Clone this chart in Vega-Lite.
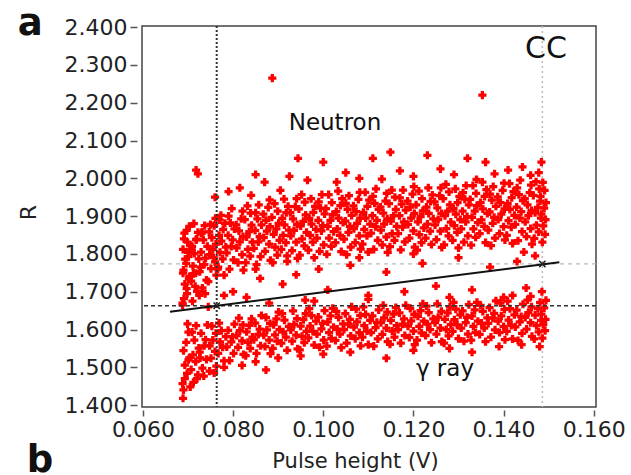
{
"$schema": "https://vega.github.io/schema/vega-lite/v6.json",
"width": 454, "height": 381,
"autosize": {"type": "none"},
"padding": {"left": 142, "top": 26, "right": 35, "bottom": 68},
"background": "white",
"config": {"view": {"stroke": "#444", "strokeWidth": 1.5}, "font": "DejaVu Sans",
 "axis": {"labelOverlap": false, "labelFlush": false, "labelBound": false, "domain": false, "grid": false, "tickWidth": 1.5, "tickColor": "#555", "labelFontSize": 22, "labelColor": "#222", "labelFont": "DejaVu Sans", "titleFontWeight": "normal", "titleColor": "#222", "titleFont": "DejaVu Sans"}},
"datasets": {
"pts": [
{"x":0.0688,"y":1.670},{"x":0.0698,"y":1.695},{"x":0.0693,"y":1.720},{"x":0.0703,"y":1.740},{"x":0.0690,"y":1.757},{"x":0.0696,"y":1.775},{"x":0.0701,"y":1.793},{"x":0.0689,"y":1.812},{"x":0.0699,"y":1.831},{"x":0.0692,"y":1.855},
{"x":0.0688,"y":1.457},{"x":0.0698,"y":1.484},{"x":0.0693,"y":1.506},{"x":0.0703,"y":1.525},{"x":0.0690,"y":1.544},{"x":0.0696,"y":1.566},{"x":0.0701,"y":1.593},
{"x":0.0720,"y":1.701},{"x":0.0707,"y":1.728},{"x":0.0717,"y":1.749},{"x":0.0711,"y":1.768},{"x":0.0724,"y":1.787},{"x":0.0714,"y":1.801},{"x":0.0709,"y":1.820},{"x":0.0718,"y":1.837},{"x":0.0722,"y":1.857},{"x":0.0713,"y":1.880},
{"x":0.0720,"y":1.470},{"x":0.0707,"y":1.494},{"x":0.0717,"y":1.515},{"x":0.0711,"y":1.533},{"x":0.0724,"y":1.551},{"x":0.0714,"y":1.572},{"x":0.0709,"y":1.593},
{"x":0.0732,"y":1.710},{"x":0.0741,"y":1.731},{"x":0.0726,"y":1.753},{"x":0.0736,"y":1.772},{"x":0.0739,"y":1.789},{"x":0.0729,"y":1.805},{"x":0.0743,"y":1.820},{"x":0.0734,"y":1.837},{"x":0.0730,"y":1.854},{"x":0.0737,"y":1.875},
{"x":0.0732,"y":1.498},{"x":0.0741,"y":1.521},{"x":0.0726,"y":1.540},{"x":0.0736,"y":1.557},{"x":0.0739,"y":1.573},{"x":0.0729,"y":1.590},{"x":0.0743,"y":1.612},
{"x":0.0763,"y":1.744},{"x":0.0751,"y":1.761},{"x":0.0760,"y":1.779},{"x":0.0748,"y":1.798},{"x":0.0755,"y":1.812},{"x":0.0762,"y":1.826},{"x":0.0753,"y":1.843},{"x":0.0747,"y":1.858},{"x":0.0758,"y":1.875},{"x":0.0761,"y":1.894},
{"x":0.0763,"y":1.503},{"x":0.0751,"y":1.524},{"x":0.0760,"y":1.542},{"x":0.0748,"y":1.557},{"x":0.0755,"y":1.572},{"x":0.0762,"y":1.590},{"x":0.0753,"y":1.609},
{"x":0.0780,"y":1.744},{"x":0.0767,"y":1.765},{"x":0.0777,"y":1.787},{"x":0.0771,"y":1.804},{"x":0.0784,"y":1.818},{"x":0.0774,"y":1.834},{"x":0.0769,"y":1.849},{"x":0.0778,"y":1.865},{"x":0.0782,"y":1.881},{"x":0.0773,"y":1.902},
{"x":0.0780,"y":1.517},{"x":0.0767,"y":1.537},{"x":0.0777,"y":1.553},{"x":0.0771,"y":1.567},{"x":0.0784,"y":1.581},{"x":0.0774,"y":1.597},{"x":0.0769,"y":1.617},
{"x":0.0792,"y":1.760},{"x":0.0801,"y":1.784},{"x":0.0786,"y":1.803},{"x":0.0796,"y":1.820},{"x":0.0799,"y":1.837},{"x":0.0789,"y":1.849},{"x":0.0803,"y":1.866},{"x":0.0794,"y":1.882},{"x":0.0790,"y":1.900},{"x":0.0797,"y":1.920},
{"x":0.0792,"y":1.518},{"x":0.0801,"y":1.537},{"x":0.0786,"y":1.554},{"x":0.0796,"y":1.567},{"x":0.0799,"y":1.581},{"x":0.0789,"y":1.598},{"x":0.0803,"y":1.614},
{"x":0.0823,"y":1.757},{"x":0.0811,"y":1.777},{"x":0.0820,"y":1.798},{"x":0.0808,"y":1.816},{"x":0.0815,"y":1.832},{"x":0.0822,"y":1.846},{"x":0.0813,"y":1.861},{"x":0.0807,"y":1.877},{"x":0.0818,"y":1.893},{"x":0.0821,"y":1.913},
{"x":0.0823,"y":1.534},{"x":0.0811,"y":1.553},{"x":0.0820,"y":1.570},{"x":0.0808,"y":1.584},{"x":0.0815,"y":1.597},{"x":0.0822,"y":1.612},{"x":0.0813,"y":1.630},
{"x":0.0828,"y":1.777},{"x":0.0838,"y":1.794},{"x":0.0833,"y":1.812},{"x":0.0843,"y":1.831},{"x":0.0830,"y":1.845},{"x":0.0836,"y":1.859},{"x":0.0841,"y":1.876},{"x":0.0826,"y":1.891},{"x":0.0839,"y":1.908},{"x":0.0832,"y":1.927},
{"x":0.0828,"y":1.531},{"x":0.0838,"y":1.550},{"x":0.0833,"y":1.566},{"x":0.0843,"y":1.580},{"x":0.0830,"y":1.594},{"x":0.0836,"y":1.611},{"x":0.0841,"y":1.628},
{"x":0.0852,"y":1.772},{"x":0.0861,"y":1.793},{"x":0.0846,"y":1.815},{"x":0.0856,"y":1.832},{"x":0.0859,"y":1.846},{"x":0.0849,"y":1.862},{"x":0.0863,"y":1.877},{"x":0.0854,"y":1.893},{"x":0.0850,"y":1.909},{"x":0.0857,"y":1.930},
{"x":0.0852,"y":1.537},{"x":0.0861,"y":1.557},{"x":0.0846,"y":1.573},{"x":0.0856,"y":1.587},{"x":0.0859,"y":1.601},{"x":0.0849,"y":1.617},{"x":0.0863,"y":1.637},
{"x":0.0883,"y":1.783},{"x":0.0871,"y":1.807},{"x":0.0880,"y":1.826},{"x":0.0868,"y":1.843},{"x":0.0875,"y":1.860},{"x":0.0882,"y":1.872},{"x":0.0873,"y":1.889},{"x":0.0867,"y":1.905},{"x":0.0878,"y":1.923},{"x":0.0881,"y":1.943},
{"x":0.0883,"y":1.536},{"x":0.0871,"y":1.555},{"x":0.0880,"y":1.572},{"x":0.0868,"y":1.585},{"x":0.0875,"y":1.599},{"x":0.0882,"y":1.616},{"x":0.0873,"y":1.632},
{"x":0.0888,"y":1.777},{"x":0.0898,"y":1.797},{"x":0.0893,"y":1.818},{"x":0.0903,"y":1.836},{"x":0.0890,"y":1.852},{"x":0.0896,"y":1.866},{"x":0.0901,"y":1.881},{"x":0.0886,"y":1.897},{"x":0.0899,"y":1.913},{"x":0.0892,"y":1.933},
{"x":0.0888,"y":1.550},{"x":0.0898,"y":1.569},{"x":0.0893,"y":1.586},{"x":0.0903,"y":1.600},{"x":0.0890,"y":1.613},{"x":0.0896,"y":1.628},{"x":0.0901,"y":1.646},
{"x":0.0920,"y":1.795},{"x":0.0907,"y":1.812},{"x":0.0917,"y":1.830},{"x":0.0911,"y":1.849},{"x":0.0924,"y":1.863},{"x":0.0914,"y":1.877},{"x":0.0909,"y":1.894},{"x":0.0918,"y":1.909},{"x":0.0922,"y":1.926},{"x":0.0913,"y":1.945},
{"x":0.0920,"y":1.545},{"x":0.0907,"y":1.564},{"x":0.0917,"y":1.580},{"x":0.0911,"y":1.594},{"x":0.0924,"y":1.608},{"x":0.0914,"y":1.625},{"x":0.0909,"y":1.642},
{"x":0.0943,"y":1.788},{"x":0.0931,"y":1.809},{"x":0.0940,"y":1.831},{"x":0.0928,"y":1.848},{"x":0.0935,"y":1.862},{"x":0.0942,"y":1.878},{"x":0.0933,"y":1.893},{"x":0.0927,"y":1.909},{"x":0.0938,"y":1.925},{"x":0.0941,"y":1.946},
{"x":0.0943,"y":1.549},{"x":0.0931,"y":1.569},{"x":0.0940,"y":1.585},{"x":0.0928,"y":1.599},{"x":0.0935,"y":1.613},{"x":0.0942,"y":1.629},{"x":0.0933,"y":1.649},
{"x":0.0948,"y":1.797},{"x":0.0958,"y":1.821},{"x":0.0953,"y":1.840},{"x":0.0963,"y":1.857},{"x":0.0950,"y":1.874},{"x":0.0956,"y":1.886},{"x":0.0961,"y":1.903},{"x":0.0946,"y":1.919},{"x":0.0959,"y":1.937},{"x":0.0952,"y":1.957},
{"x":0.0948,"y":1.546},{"x":0.0958,"y":1.565},{"x":0.0953,"y":1.582},{"x":0.0963,"y":1.595},{"x":0.0950,"y":1.609},{"x":0.0956,"y":1.626},{"x":0.0961,"y":1.642},
{"x":0.0980,"y":1.790},{"x":0.0967,"y":1.810},{"x":0.0977,"y":1.831},{"x":0.0971,"y":1.849},{"x":0.0984,"y":1.865},{"x":0.0974,"y":1.879},{"x":0.0969,"y":1.894},{"x":0.0978,"y":1.910},{"x":0.0982,"y":1.926},{"x":0.0973,"y":1.946},
{"x":0.0980,"y":1.559},{"x":0.0967,"y":1.578},{"x":0.0977,"y":1.595},{"x":0.0971,"y":1.609},{"x":0.0984,"y":1.622},{"x":0.0974,"y":1.637},{"x":0.0969,"y":1.655},
{"x":0.0992,"y":1.807},{"x":0.1001,"y":1.824},{"x":0.0986,"y":1.842},{"x":0.0996,"y":1.861},{"x":0.0999,"y":1.875},{"x":0.0989,"y":1.889},{"x":0.1003,"y":1.906},{"x":0.0994,"y":1.921},{"x":0.0990,"y":1.938},{"x":0.0997,"y":1.957},
{"x":0.0992,"y":1.553},{"x":0.1001,"y":1.572},{"x":0.0986,"y":1.588},{"x":0.0996,"y":1.602},{"x":0.0999,"y":1.616},{"x":0.0989,"y":1.633},{"x":0.1003,"y":1.650},
{"x":0.1008,"y":1.799},{"x":0.1018,"y":1.820},{"x":0.1013,"y":1.842},{"x":0.1023,"y":1.859},{"x":0.1010,"y":1.873},{"x":0.1016,"y":1.889},{"x":0.1021,"y":1.904},{"x":0.1006,"y":1.920},{"x":0.1019,"y":1.936},{"x":0.1012,"y":1.957},
{"x":0.1008,"y":1.556},{"x":0.1018,"y":1.576},{"x":0.1013,"y":1.592},{"x":0.1023,"y":1.606},{"x":0.1010,"y":1.620},{"x":0.1016,"y":1.636},{"x":0.1021,"y":1.656},
{"x":0.1040,"y":1.806},{"x":0.1027,"y":1.830},{"x":0.1037,"y":1.849},{"x":0.1031,"y":1.866},{"x":0.1044,"y":1.883},{"x":0.1034,"y":1.895},{"x":0.1029,"y":1.912},{"x":0.1038,"y":1.928},{"x":0.1042,"y":1.946},{"x":0.1033,"y":1.966},
{"x":0.1040,"y":1.552},{"x":0.1027,"y":1.571},{"x":0.1037,"y":1.588},{"x":0.1031,"y":1.601},{"x":0.1044,"y":1.615},{"x":0.1034,"y":1.632},{"x":0.1029,"y":1.648},
{"x":0.1052,"y":1.798},{"x":0.1061,"y":1.818},{"x":0.1046,"y":1.839},{"x":0.1056,"y":1.857},{"x":0.1059,"y":1.873},{"x":0.1049,"y":1.887},{"x":0.1063,"y":1.902},{"x":0.1054,"y":1.918},{"x":0.1050,"y":1.934},{"x":0.1057,"y":1.954},
{"x":0.1052,"y":1.564},{"x":0.1061,"y":1.583},{"x":0.1046,"y":1.600},{"x":0.1056,"y":1.614},{"x":0.1059,"y":1.627},{"x":0.1049,"y":1.642},{"x":0.1063,"y":1.660},
{"x":0.1083,"y":1.813},{"x":0.1071,"y":1.830},{"x":0.1080,"y":1.848},{"x":0.1068,"y":1.867},{"x":0.1075,"y":1.881},{"x":0.1082,"y":1.895},{"x":0.1073,"y":1.912},{"x":0.1067,"y":1.927},{"x":0.1078,"y":1.944},{"x":0.1081,"y":1.963},
{"x":0.1083,"y":1.557},{"x":0.1071,"y":1.576},{"x":0.1080,"y":1.592},{"x":0.1068,"y":1.606},{"x":0.1075,"y":1.620},{"x":0.1082,"y":1.637},{"x":0.1073,"y":1.654},
{"x":0.1100,"y":1.805},{"x":0.1087,"y":1.826},{"x":0.1097,"y":1.848},{"x":0.1091,"y":1.865},{"x":0.1104,"y":1.879},{"x":0.1094,"y":1.895},{"x":0.1089,"y":1.910},{"x":0.1098,"y":1.926},{"x":0.1102,"y":1.942},{"x":0.1093,"y":1.963},
{"x":0.1100,"y":1.560},{"x":0.1087,"y":1.580},{"x":0.1097,"y":1.596},{"x":0.1091,"y":1.610},{"x":0.1104,"y":1.624},{"x":0.1094,"y":1.640},{"x":0.1089,"y":1.660},
{"x":0.1112,"y":1.812},{"x":0.1121,"y":1.836},{"x":0.1106,"y":1.855},{"x":0.1116,"y":1.872},{"x":0.1119,"y":1.889},{"x":0.1109,"y":1.901},{"x":0.1123,"y":1.918},{"x":0.1114,"y":1.934},{"x":0.1110,"y":1.952},{"x":0.1117,"y":1.972},
{"x":0.1112,"y":1.556},{"x":0.1121,"y":1.575},{"x":0.1106,"y":1.592},{"x":0.1116,"y":1.605},{"x":0.1119,"y":1.619},{"x":0.1109,"y":1.636},{"x":0.1123,"y":1.652},
{"x":0.1143,"y":1.804},{"x":0.1131,"y":1.824},{"x":0.1140,"y":1.845},{"x":0.1128,"y":1.863},{"x":0.1135,"y":1.879},{"x":0.1142,"y":1.893},{"x":0.1133,"y":1.908},{"x":0.1127,"y":1.924},{"x":0.1138,"y":1.940},{"x":0.1141,"y":1.960},
{"x":0.1143,"y":1.568},{"x":0.1131,"y":1.587},{"x":0.1140,"y":1.604},{"x":0.1128,"y":1.618},{"x":0.1135,"y":1.631},{"x":0.1142,"y":1.646},{"x":0.1133,"y":1.664},
{"x":0.1148,"y":1.819},{"x":0.1158,"y":1.836},{"x":0.1153,"y":1.854},{"x":0.1163,"y":1.873},{"x":0.1150,"y":1.887},{"x":0.1156,"y":1.901},{"x":0.1161,"y":1.918},{"x":0.1146,"y":1.933},{"x":0.1159,"y":1.950},{"x":0.1152,"y":1.969},
{"x":0.1148,"y":1.561},{"x":0.1158,"y":1.580},{"x":0.1153,"y":1.596},{"x":0.1163,"y":1.610},{"x":0.1150,"y":1.624},{"x":0.1156,"y":1.641},{"x":0.1161,"y":1.658},
{"x":0.1172,"y":1.811},{"x":0.1181,"y":1.832},{"x":0.1166,"y":1.854},{"x":0.1176,"y":1.871},{"x":0.1179,"y":1.885},{"x":0.1169,"y":1.901},{"x":0.1183,"y":1.916},{"x":0.1174,"y":1.932},{"x":0.1170,"y":1.948},{"x":0.1177,"y":1.969},
{"x":0.1172,"y":1.564},{"x":0.1181,"y":1.584},{"x":0.1166,"y":1.600},{"x":0.1176,"y":1.614},{"x":0.1179,"y":1.628},{"x":0.1169,"y":1.644},{"x":0.1183,"y":1.664},
{"x":0.1203,"y":1.818},{"x":0.1191,"y":1.842},{"x":0.1200,"y":1.861},{"x":0.1188,"y":1.878},{"x":0.1195,"y":1.895},{"x":0.1202,"y":1.907},{"x":0.1193,"y":1.924},{"x":0.1187,"y":1.940},{"x":0.1198,"y":1.958},{"x":0.1201,"y":1.978},
{"x":0.1203,"y":1.560},{"x":0.1191,"y":1.579},{"x":0.1200,"y":1.596},{"x":0.1188,"y":1.609},{"x":0.1195,"y":1.623},{"x":0.1202,"y":1.640},{"x":0.1193,"y":1.656},
{"x":0.1208,"y":1.810},{"x":0.1218,"y":1.830},{"x":0.1213,"y":1.851},{"x":0.1223,"y":1.869},{"x":0.1210,"y":1.885},{"x":0.1216,"y":1.899},{"x":0.1221,"y":1.914},{"x":0.1206,"y":1.930},{"x":0.1219,"y":1.946},{"x":0.1212,"y":1.966},
{"x":0.1208,"y":1.572},{"x":0.1218,"y":1.591},{"x":0.1213,"y":1.608},{"x":0.1223,"y":1.622},{"x":0.1210,"y":1.635},{"x":0.1216,"y":1.650},{"x":0.1221,"y":1.668},
{"x":0.1240,"y":1.825},{"x":0.1227,"y":1.842},{"x":0.1237,"y":1.860},{"x":0.1231,"y":1.879},{"x":0.1244,"y":1.893},{"x":0.1234,"y":1.907},{"x":0.1229,"y":1.924},{"x":0.1238,"y":1.939},{"x":0.1242,"y":1.956},{"x":0.1233,"y":1.975},
{"x":0.1240,"y":1.565},{"x":0.1227,"y":1.584},{"x":0.1237,"y":1.600},{"x":0.1231,"y":1.614},{"x":0.1244,"y":1.628},{"x":0.1234,"y":1.645},{"x":0.1229,"y":1.662},
{"x":0.1263,"y":1.817},{"x":0.1251,"y":1.838},{"x":0.1260,"y":1.860},{"x":0.1248,"y":1.877},{"x":0.1255,"y":1.891},{"x":0.1262,"y":1.907},{"x":0.1253,"y":1.922},{"x":0.1247,"y":1.938},{"x":0.1258,"y":1.954},{"x":0.1261,"y":1.975},
{"x":0.1263,"y":1.568},{"x":0.1251,"y":1.588},{"x":0.1260,"y":1.604},{"x":0.1248,"y":1.618},{"x":0.1255,"y":1.632},{"x":0.1262,"y":1.648},{"x":0.1253,"y":1.668},
{"x":0.1268,"y":1.824},{"x":0.1278,"y":1.848},{"x":0.1273,"y":1.867},{"x":0.1283,"y":1.884},{"x":0.1270,"y":1.901},{"x":0.1276,"y":1.913},{"x":0.1281,"y":1.930},{"x":0.1266,"y":1.946},{"x":0.1279,"y":1.964},{"x":0.1272,"y":1.984},
{"x":0.1268,"y":1.564},{"x":0.1278,"y":1.583},{"x":0.1273,"y":1.600},{"x":0.1283,"y":1.613},{"x":0.1270,"y":1.627},{"x":0.1276,"y":1.644},{"x":0.1281,"y":1.660},
{"x":0.1300,"y":1.816},{"x":0.1287,"y":1.836},{"x":0.1297,"y":1.857},{"x":0.1291,"y":1.875},{"x":0.1304,"y":1.891},{"x":0.1294,"y":1.905},{"x":0.1289,"y":1.920},{"x":0.1298,"y":1.936},{"x":0.1302,"y":1.952},{"x":0.1293,"y":1.972},
{"x":0.1300,"y":1.576},{"x":0.1287,"y":1.595},{"x":0.1297,"y":1.612},{"x":0.1291,"y":1.626},{"x":0.1304,"y":1.639},{"x":0.1294,"y":1.654},{"x":0.1289,"y":1.672},
{"x":0.1312,"y":1.831},{"x":0.1321,"y":1.848},{"x":0.1306,"y":1.866},{"x":0.1316,"y":1.885},{"x":0.1319,"y":1.899},{"x":0.1309,"y":1.913},{"x":0.1323,"y":1.930},{"x":0.1314,"y":1.945},{"x":0.1310,"y":1.962},{"x":0.1317,"y":1.981},
{"x":0.1312,"y":1.569},{"x":0.1321,"y":1.588},{"x":0.1306,"y":1.604},{"x":0.1316,"y":1.618},{"x":0.1319,"y":1.632},{"x":0.1309,"y":1.649},{"x":0.1323,"y":1.666},
{"x":0.1328,"y":1.823},{"x":0.1338,"y":1.844},{"x":0.1333,"y":1.866},{"x":0.1343,"y":1.883},{"x":0.1330,"y":1.897},{"x":0.1336,"y":1.913},{"x":0.1341,"y":1.928},{"x":0.1326,"y":1.944},{"x":0.1339,"y":1.960},{"x":0.1332,"y":1.981},
{"x":0.1328,"y":1.572},{"x":0.1338,"y":1.592},{"x":0.1333,"y":1.608},{"x":0.1343,"y":1.622},{"x":0.1330,"y":1.636},{"x":0.1336,"y":1.652},{"x":0.1341,"y":1.672},
{"x":0.1360,"y":1.830},{"x":0.1347,"y":1.854},{"x":0.1357,"y":1.873},{"x":0.1351,"y":1.890},{"x":0.1364,"y":1.907},{"x":0.1354,"y":1.919},{"x":0.1349,"y":1.936},{"x":0.1358,"y":1.952},{"x":0.1362,"y":1.970},{"x":0.1353,"y":1.990},
{"x":0.1360,"y":1.568},{"x":0.1347,"y":1.587},{"x":0.1357,"y":1.604},{"x":0.1351,"y":1.617},{"x":0.1364,"y":1.631},{"x":0.1354,"y":1.648},{"x":0.1349,"y":1.664},
{"x":0.1372,"y":1.822},{"x":0.1381,"y":1.842},{"x":0.1366,"y":1.863},{"x":0.1376,"y":1.881},{"x":0.1379,"y":1.897},{"x":0.1369,"y":1.911},{"x":0.1383,"y":1.926},{"x":0.1374,"y":1.942},{"x":0.1370,"y":1.958},{"x":0.1377,"y":1.978},
{"x":0.1372,"y":1.580},{"x":0.1381,"y":1.599},{"x":0.1366,"y":1.616},{"x":0.1376,"y":1.630},{"x":0.1379,"y":1.643},{"x":0.1369,"y":1.658},{"x":0.1383,"y":1.676},
{"x":0.1403,"y":1.837},{"x":0.1391,"y":1.854},{"x":0.1400,"y":1.872},{"x":0.1388,"y":1.891},{"x":0.1395,"y":1.905},{"x":0.1402,"y":1.919},{"x":0.1393,"y":1.936},{"x":0.1387,"y":1.951},{"x":0.1398,"y":1.968},{"x":0.1401,"y":1.987},
{"x":0.1403,"y":1.573},{"x":0.1391,"y":1.592},{"x":0.1400,"y":1.608},{"x":0.1388,"y":1.622},{"x":0.1395,"y":1.636},{"x":0.1402,"y":1.653},{"x":0.1393,"y":1.670},
{"x":0.1420,"y":1.828},{"x":0.1407,"y":1.849},{"x":0.1417,"y":1.871},{"x":0.1411,"y":1.888},{"x":0.1424,"y":1.902},{"x":0.1414,"y":1.918},{"x":0.1409,"y":1.933},{"x":0.1418,"y":1.949},{"x":0.1422,"y":1.965},{"x":0.1413,"y":1.986},
{"x":0.1420,"y":1.575},{"x":0.1407,"y":1.595},{"x":0.1417,"y":1.611},{"x":0.1411,"y":1.625},{"x":0.1424,"y":1.639},{"x":0.1414,"y":1.655},{"x":0.1409,"y":1.675},
{"x":0.1432,"y":1.835},{"x":0.1441,"y":1.859},{"x":0.1426,"y":1.878},{"x":0.1436,"y":1.895},{"x":0.1439,"y":1.912},{"x":0.1429,"y":1.924},{"x":0.1443,"y":1.941},{"x":0.1434,"y":1.957},{"x":0.1430,"y":1.975},{"x":0.1437,"y":1.995},
{"x":0.1432,"y":1.571},{"x":0.1441,"y":1.590},{"x":0.1426,"y":1.607},{"x":0.1436,"y":1.620},{"x":0.1439,"y":1.634},{"x":0.1429,"y":1.651},{"x":0.1443,"y":1.667},
{"x":0.1463,"y":1.826},{"x":0.1451,"y":1.846},{"x":0.1460,"y":1.867},{"x":0.1448,"y":1.885},{"x":0.1455,"y":1.901},{"x":0.1462,"y":1.915},{"x":0.1453,"y":1.930},{"x":0.1447,"y":1.946},{"x":0.1458,"y":1.962},{"x":0.1461,"y":1.982},
{"x":0.1463,"y":1.582},{"x":0.1451,"y":1.601},{"x":0.1460,"y":1.618},{"x":0.1448,"y":1.632},{"x":0.1455,"y":1.645},{"x":0.1462,"y":1.660},{"x":0.1453,"y":1.678},
{"x":0.1468,"y":1.841},{"x":0.1478,"y":1.858},{"x":0.1473,"y":1.876},{"x":0.1483,"y":1.895},{"x":0.1470,"y":1.909},{"x":0.1476,"y":1.923},{"x":0.1481,"y":1.940},{"x":0.1466,"y":1.955},{"x":0.1479,"y":1.972},{"x":0.1472,"y":1.991},
{"x":0.1468,"y":1.575},{"x":0.1478,"y":1.594},{"x":0.1473,"y":1.610},{"x":0.1483,"y":1.624},{"x":0.1470,"y":1.638},{"x":0.1476,"y":1.655},{"x":0.1481,"y":1.672},
{"x":0.1486,"y":1.831},{"x":0.1492,"y":1.852},{"x":0.1488,"y":1.874},{"x":0.1493,"y":1.891},{"x":0.1484,"y":1.905},{"x":0.1490,"y":1.921},{"x":0.1494,"y":1.936},{"x":0.1482,"y":1.952},{"x":0.1491,"y":1.968},{"x":0.1487,"y":1.989},
{"x":0.1486,"y":1.577},{"x":0.1492,"y":1.597},{"x":0.1488,"y":1.613},{"x":0.1493,"y":1.627},{"x":0.1484,"y":1.641},{"x":0.1490,"y":1.657},{"x":0.1494,"y":1.677},
{"x":0.0691,"y":1.682},{"x":0.0697,"y":1.708},{"x":0.0702,"y":1.733},{"x":0.0689,"y":1.749},{"x":0.0694,"y":1.786},{"x":0.0700,"y":1.804},{"x":0.0705,"y":1.822},{"x":0.0691,"y":1.840},{"x":0.0697,"y":1.862},{"x":0.0710,"y":1.675},{"x":0.0712,"y":1.748},{"x":0.0708,"y":1.812},{"x":0.0716,"y":1.714},{"x":0.0719,"y":1.839},{"x":0.0725,"y":1.690},{"x":0.0728,"y":1.765},{"x":0.0731,"y":1.858},{"x":0.0738,"y":1.695},{"x":0.0745,"y":1.727},{"x":0.0750,"y":1.878},{"x":0.0757,"y":1.790},{"x":0.0766,"y":1.760},{"x":0.0770,"y":1.890},{"x":0.0688,"y":1.665},{"x":0.0703,"y":1.873},
{"x":0.0690,"y":1.440},{"x":0.0693,"y":1.470},{"x":0.0699,"y":1.615},{"x":0.0705,"y":1.448},{"x":0.0712,"y":1.460},{"x":0.0718,"y":1.610},{"x":0.0722,"y":1.480},{"x":0.0735,"y":1.477},{"x":0.0748,"y":1.490},{"x":0.0758,"y":1.485},{"x":0.0689,"y":1.418},{"x":0.0701,"y":1.520},{"x":0.0727,"y":1.525},
{"x":0.0887,"y":2.265},{"x":0.1353,"y":2.220},{"x":0.0718,"y":2.022},{"x":0.0722,"y":2.012},{"x":0.0944,"y":2.053},{"x":0.1149,"y":2.069},{"x":0.1231,"y":2.061},{"x":0.1320,"y":2.053},{"x":0.1110,"y":2.053},{"x":0.1484,"y":2.043},{"x":0.1360,"y":2.043},{"x":0.1442,"y":2.030},{"x":0.1000,"y":2.043},{"x":0.0870,"y":1.990},{"x":0.0815,"y":1.975},{"x":0.0790,"y":1.965},{"x":0.0760,"y":1.950},{"x":0.0850,"y":2.010},{"x":0.0925,"y":2.005},{"x":0.0965,"y":1.995},{"x":0.1050,"y":2.015},{"x":0.1080,"y":2.000},{"x":0.1170,"y":2.020},{"x":0.1200,"y":2.005},{"x":0.1260,"y":2.025},{"x":0.1290,"y":2.010},{"x":0.1380,"y":2.012},{"x":0.1410,"y":2.022},{"x":0.1460,"y":2.008},{"x":0.1478,"y":2.015},{"x":0.1030,"y":1.990},{"x":0.1130,"y":1.998},{"x":0.1340,"y":1.997},{"x":0.0905,"y":1.968},{"x":0.0840,"y":1.955},
{"x":0.0745,"y":1.660},{"x":0.0780,"y":1.690},{"x":0.0800,"y":1.700},{"x":0.0830,"y":1.685},{"x":0.0860,"y":1.735},{"x":0.0880,"y":1.670},{"x":0.0910,"y":1.720},{"x":0.0940,"y":1.745},{"x":0.0960,"y":1.678},{"x":0.0990,"y":1.760},{"x":0.1010,"y":1.705},{"x":0.1060,"y":1.770},{"x":0.1100,"y":1.690},{"x":0.1140,"y":1.752},{"x":0.1180,"y":1.700},{"x":0.1220,"y":1.775},{"x":0.1250,"y":1.715},{"x":0.1300,"y":1.790},{"x":0.1330,"y":1.705},{"x":0.1370,"y":1.765},{"x":0.1400,"y":1.685},{"x":0.1430,"y":1.780},{"x":0.1450,"y":1.710},{"x":0.1470,"y":1.795},{"x":0.1485,"y":1.700},{"x":0.1445,"y":1.805},{"x":0.1200,"y":1.800},{"x":0.1080,"y":1.790},{"x":0.0920,"y":1.780},{"x":0.0850,"y":1.760},
{"x":0.0780,"y":1.500},{"x":0.0820,"y":1.505},{"x":0.0873,"y":1.493},{"x":0.0900,"y":1.525},{"x":0.0950,"y":1.530},{"x":0.1000,"y":1.535},{"x":0.1060,"y":1.540},{"x":0.1140,"y":1.524},{"x":0.1200,"y":1.545},{"x":0.1280,"y":1.550},{"x":0.1330,"y":1.540},{"x":0.1390,"y":1.555},{"x":0.1440,"y":1.560},{"x":0.1480,"y":1.555},{"x":0.0850,"y":1.515},
{"x":0.1280,"y":1.685},{"x":0.1420,"y":1.690},{"x":0.1460,"y":1.688},{"x":0.1100,"y":1.680},{"x":0.0980,"y":1.675}
],
"fit": [{"x":0.06601,"y":1.6472},{"x":0.15237,"y":1.7779}],
"cuts": [{"x":0.07637,"y":1.663},{"x":0.1486,"y":1.7734}]
},
"layer": [
{"data": {"values": [{"x": 0.1486}]}, "mark": {"type": "rule", "color": "#bbbbbb", "strokeWidth": 1.5, "strokeDash": [2, 3]},
 "encoding": {"x": {"field": "x", "type": "quantitative", "scale": {"domain": [0.0598, 0.1605], "nice": false, "zero": false},
   "axis": {"values": [0.06, 0.08, 0.1, 0.12, 0.14, 0.16], "tickCount": 20, "format": ".3f", "offset": 3, "tickSize": 6, "labelPadding": 3, "labelOverlap": false,
    "title": "Pulse height (V)", "titleFontSize": 21, "titleX": 213, "titleY": 57, "titleBaseline": "alphabetic", "titleAlign": "center"}}}},
{"data": {"values": [{"y": 1.7734}]}, "mark": {"type": "rule", "color": "#bbbbbb", "strokeWidth": 1.2, "strokeDash": [4, 4]},
 "encoding": {"y": {"field": "y", "type": "quantitative", "scale": {"domain": [1.395, 2.403], "nice": false, "zero": false},
   "axis": {"values": [1.4, 1.5, 1.6, 1.7, 1.8, 1.9, 2.0, 2.1, 2.2, 2.3, 2.4], "tickCount": 20, "format": ".3f", "offset": 5, "tickSize": 7, "labelPadding": 3, "labelOverlap": false, "labelSeparation": 0,
    "title": "R", "titleFontSize": 22, "titleX": -109, "titleY": 186, "titleBaseline": "middle", "titleAlign": "center"}}}},
{"data": {"name": "pts"}, "mark": {"type": "point", "shape": "cross", "filled": true, "color": "#ff0000", "size": 66, "opacity": 1},
 "encoding": {
  "x": {"field": "x", "type": "quantitative", "scale": {"domain": [0.0598, 0.1605], "nice": false, "zero": false}, "title": "Pulse height (V)"},
  "y": {"field": "y", "type": "quantitative", "scale": {"domain": [1.395, 2.403], "nice": false, "zero": false}, "title": "R",
   "axis": {"values": [1.4, 1.5, 1.6, 1.7, 1.8, 1.9, 2.0, 2.1, 2.2, 2.3, 2.4], "tickCount": 20, "format": ".3f", "offset": 5, "tickSize": 7, "labelPadding": 3, "labelOverlap": false, "labelSeparation": 0,
    "title": "R", "titleFontSize": 22, "titleX": -109, "titleY": 186, "titleBaseline": "middle", "titleAlign": "center"}}
 }},
{"data": {"values": [{"x": 0.07637}]}, "mark": {"type": "rule", "color": "#333333", "strokeWidth": 2, "strokeDash": [2, 2]},
 "encoding": {"x": {"field": "x", "type": "quantitative", "scale": {"domain": [0.0598, 0.1605], "nice": false, "zero": false}, "title": "Pulse height (V)"}}},
{"data": {"values": [{"y": 1.663}]}, "mark": {"type": "rule", "color": "#333333", "strokeWidth": 1.5, "strokeDash": [4, 3]},
 "encoding": {"y": {"field": "y", "type": "quantitative", "scale": {"domain": [1.395, 2.403], "nice": false, "zero": false}, "title": "R"}}},
{"data": {"name": "fit"}, "mark": {"type": "line", "color": "#111111", "strokeWidth": 2},
 "encoding": {"x": {"field": "x", "type": "quantitative", "scale": {"domain": [0.0598, 0.1605], "nice": false, "zero": false}, "title": "Pulse height (V)"},
  "y": {"field": "y", "type": "quantitative", "scale": {"domain": [1.395, 2.403], "nice": false, "zero": false}, "title": "R"}}},
{"data": {"name": "cuts"}, "mark": {"type": "point", "shape": "M-1,-1L1,1M-1,1L1,-1", "filled": false, "stroke": "#222222", "strokeWidth": 1.5, "size": 40, "opacity": 1},
 "encoding": {"x": {"field": "x", "type": "quantitative", "scale": {"domain": [0.0598, 0.1605], "nice": false, "zero": false}, "title": "Pulse height (V)"},
  "y": {"field": "y", "type": "quantitative", "scale": {"domain": [1.395, 2.403], "nice": false, "zero": false}, "title": "R"}}},
{"data": {"values": [{"x": 0.1026, "y": 2.128, "t": "Neutron"}, {"x": 0.1270, "y": 1.477, "t": "γ ray"}]},
 "mark": {"type": "text", "fontSize": 23, "font": "DejaVu Sans", "color": "#111111", "align": "center", "baseline": "alphabetic"},
 "encoding": {"x": {"field": "x", "type": "quantitative", "scale": {"domain": [0.0598, 0.1605], "nice": false, "zero": false}, "title": "Pulse height (V)"},
  "y": {"field": "y", "type": "quantitative", "scale": {"domain": [1.395, 2.403], "nice": false, "zero": false}, "title": "R"}, "text": {"field": "t"}}},
{"data": {"values": [{"x": 0.1494, "y": 2.318, "t": "CC"}]},
 "mark": {"type": "text", "fontSize": 30, "font": "DejaVu Sans", "color": "#111111", "align": "center", "baseline": "alphabetic"},
 "encoding": {"x": {"field": "x", "type": "quantitative", "scale": {"domain": [0.0598, 0.1605], "nice": false, "zero": false}, "title": "Pulse height (V)"},
  "y": {"field": "y", "type": "quantitative", "scale": {"domain": [1.395, 2.403], "nice": false, "zero": false}, "title": "R"}, "text": {"field": "t"}}},
{"data": {"values": [{"x": 0.0350, "y": 2.379, "t": "a"}, {"x": 0.0372, "y": 1.224, "t": "b"}]},
 "mark": {"type": "text", "fontSize": 37, "fontWeight": "bold", "font": "DejaVu Sans", "color": "#111111", "align": "center", "baseline": "alphabetic"},
 "encoding": {"x": {"field": "x", "type": "quantitative", "scale": {"domain": [0.0598, 0.1605], "nice": false, "zero": false}, "title": "Pulse height (V)"},
  "y": {"field": "y", "type": "quantitative", "scale": {"domain": [1.395, 2.403], "nice": false, "zero": false}, "title": "R"}, "text": {"field": "t"}}}
]
}
